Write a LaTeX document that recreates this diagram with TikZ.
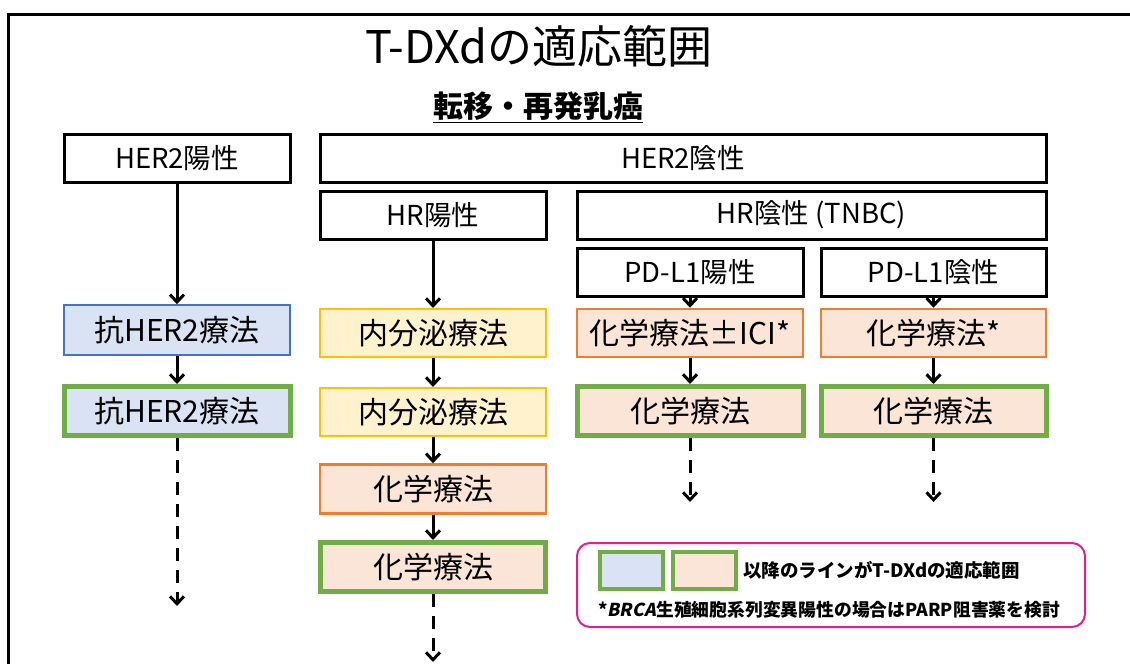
\documentclass[tikz,border=0pt]{standalone}
\usepackage{fontspec}
\setmainfont{Noto Sans CJK JP}
\newfontfamily\brcafont{Noto Sans CJK JP}[FakeSlant=0.2]
\usetikzlibrary{arrows.meta}
\definecolor{bblue}{HTML}{4472C4}
\definecolor{lblue}{HTML}{DAE3F3}
\definecolor{byel}{HTML}{FFC000}
\definecolor{lyel}{HTML}{FFF2CC}
\definecolor{bor}{HTML}{ED7D31}
\definecolor{lor}{HTML}{FBE5D6}
\definecolor{bgrn}{HTML}{70AD47}
\definecolor{mag}{HTML}{E0218A}
\tikzset{
  hdr/.style={draw=black, line width=3pt, fill=white, minimum height=48pt, inner sep=0pt, font=\fontsize{27.5}{32}\selectfont},
  tx/.style={minimum height=48pt, inner sep=0pt, font=\fontsize{30}{34}\selectfont},
  bluebox/.style={tx, draw=bblue, fill=lblue, line width=1.5pt},
  yelbox/.style={tx, draw=byel, fill=lyel, line width=2pt},
  orbox/.style={tx, draw=bor, fill=lor, line width=2.5pt},
  grnblue/.style={tx, draw=bgrn, fill=lblue, line width=5pt},
  grnor/.style={tx, draw=bgrn, fill=lor, line width=5pt},
  arr/.style={line width=3pt, -{Straight Barb[length=7.5pt,width=14pt]}},
  darr/.style={arr, dash pattern=on 13pt off 9pt},
  legbox/.style={draw=bgrn, line width=4pt, minimum width=63pt, minimum height=37pt, inner sep=0pt},
  legtext/.style={inner sep=0pt, font=\fontsize{18.5}{22}\selectfont\bfseries}
}
\begin{document}
\begin{tikzpicture}[x=1pt,y=-1pt]
\useasboundingbox (0,0) rectangle (1130,664);
\clip (0,0) rectangle (1130,664);
\fill[white] (0,0) rectangle (1130,664);
\draw[line width=3pt] (8,700) -- (8,14) -- (1160,14);

\node[inner sep=0pt, font=\fontsize{45}{50}\selectfont] (title) at (539,46) {T-DXdの適応範囲};
\node[inner sep=0pt, font=\fontsize{30}{34}\selectfont\bfseries] (sub) at (538,107) {\underline{転移・再発乳癌}};

\node[hdr, minimum width=226pt] (her2p) at (177,158) {HER2陽性};
\node[hdr, minimum width=726pt] (her2n) at (683,158) {HER2陰性};
\node[hdr, minimum width=226pt] (hrp) at (433,215) {HR陽性};
\node[hdr, minimum width=469pt] (hrn) at (811.5,215) {HR陰性 (TNBC)};
\node[hdr, minimum width=226pt] (pdp) at (690,272) {PD-L1陽性};
\node[hdr, minimum width=225pt] (pdn) at (933.5,272) {PD-L1陰性};

\node[bluebox, minimum width=226pt, minimum height=50pt] (a1) at (177,330) {抗HER2療法};
\node[grnblue, minimum width=226pt, minimum height=49pt] (a2) at (177,411) {抗HER2療法};

\node[yelbox, minimum width=226pt] (e1) at (433,333) {内分泌療法};
\node[yelbox, minimum width=226pt] (e2) at (433,412) {内分泌療法};
\node[orbox, minimum width=226pt, minimum height=49pt] (c1) at (433,489) {化学療法};
\node[grnor, minimum width=225pt, minimum height=49pt] (c2) at (433,567) {化学療法};

\node[orbox, minimum width=226pt] (i1) at (690,333) {化学療法±ICI*};
\node[grnor, minimum width=226pt, minimum height=49pt] (i2) at (690,411) {化学療法};
\node[orbox, minimum width=225pt] (n1) at (933.5,333) {化学療法*};
\node[grnor, minimum width=225pt, minimum height=49pt] (n2) at (933.5,411) {化学療法};

\coordinate (ea) at (177,606);
\coordinate (ec) at (433,662);
\coordinate (ei) at (690,502);
\coordinate (en) at (933.5,502);

\draw[arr] (her2p) -- (a1);
\draw[arr] (a1) -- (a2);
\draw[darr] (a2) -- (ea);
\draw[arr] (hrp) -- (e1);
\draw[arr] (e1) -- (e2);
\draw[arr] (e2) -- (c1);
\draw[arr] (c1) -- (c2);
\draw[darr] (c2) -- (ec);
\draw[arr] (pdp) -- (i1);
\draw[arr] (i1) -- (i2);
\draw[darr] (i2) -- (ei);
\draw[arr] (pdn) -- (n1);
\draw[arr] (n1) -- (n2);
\draw[darr] (n2) -- (en);

\node[draw=mag, line width=2pt, rounded corners=13pt, minimum width=508pt, minimum height=84pt, inner sep=0pt] (legend) at (831,585) {};
\node[legbox, fill=lblue] (lb1) at (631.5,570.5) {};
\node[legbox, fill=lor] (lb2) at (704,570.5) {};
\node[legtext, anchor=west] (lt1) at (743,570) {以降のラインがT-DXdの適応範囲};
\node[legtext, anchor=west, font=\fontsize{17.8}{21}\selectfont\bfseries] (lt2) at (598,610) {*{\brcafont\bfseries BRCA}生殖細胞系列変異陽性の場合はPARP阻害薬を検討};
\end{tikzpicture}
\end{document}
